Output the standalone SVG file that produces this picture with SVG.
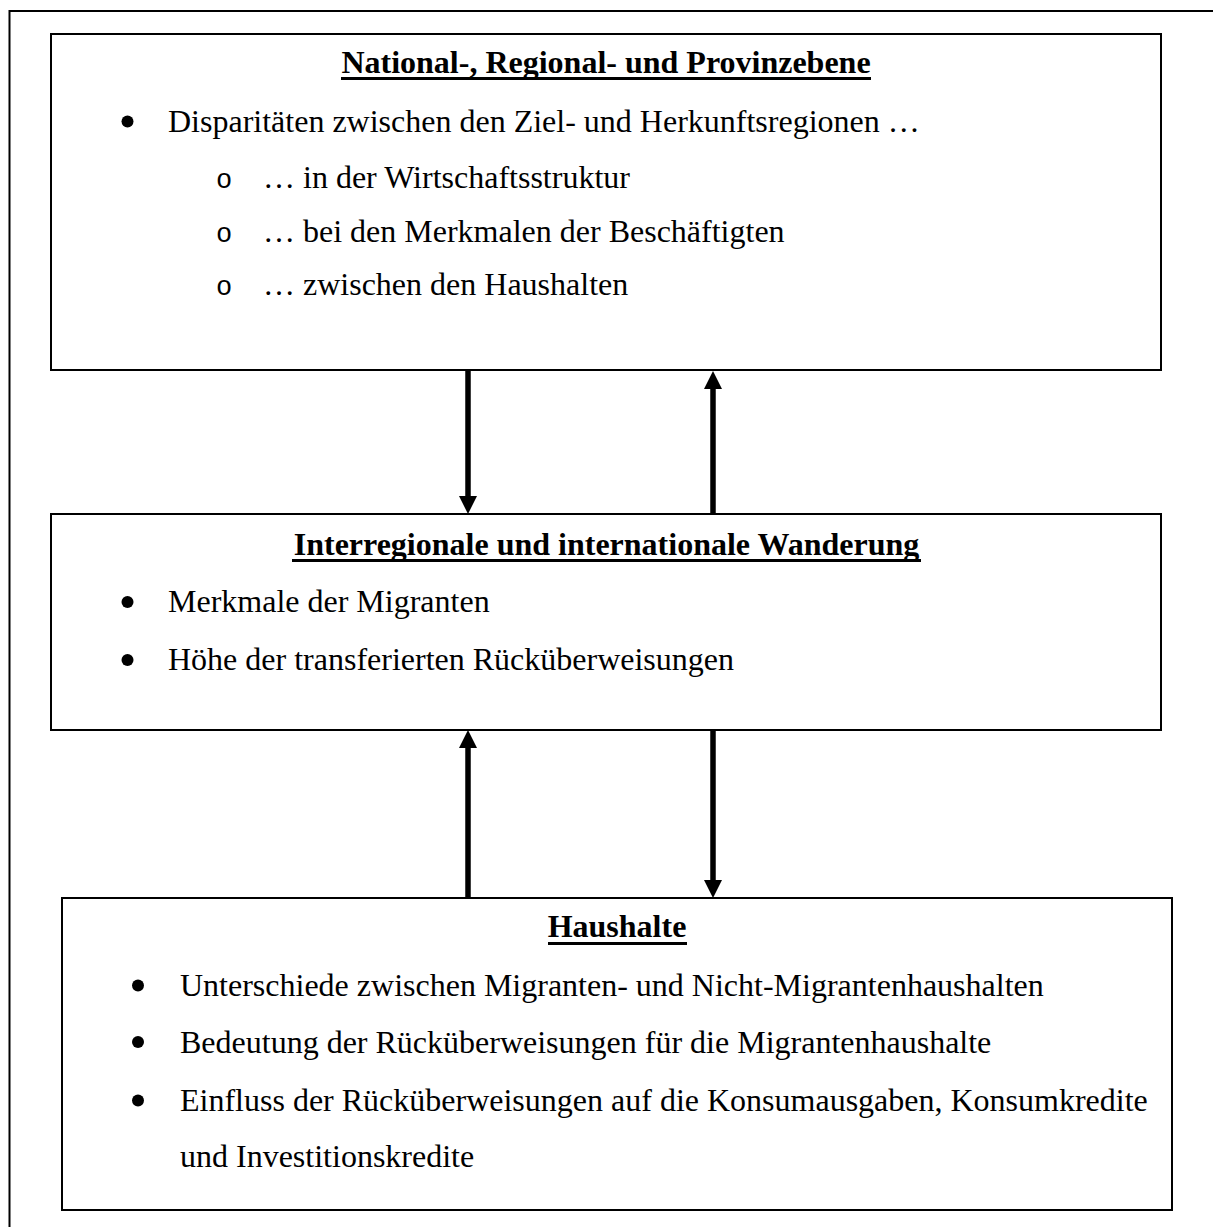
<svg xmlns="http://www.w3.org/2000/svg" width="1213" height="1227" viewBox="0 0 1213 1227">
  <style>
    .frame { fill: none; stroke: #000; stroke-width: 2; }
    .box { fill: #fff; stroke: #000; stroke-width: 2; }
    .title { font-family: "Liberation Serif", "Times New Roman", serif; font-size: 32px; font-weight: bold; fill: #000; text-anchor: middle; }
    .body { font-family: "Liberation Serif", "Times New Roman", serif; font-size: 32px; fill: #000; }
    .sub { font-family: "Liberation Mono", "Courier New", monospace; font-size: 27px; fill: #000; }
    .ul { fill: #000; }
    .dot { fill: #000; }
    .link { stroke: #000; stroke-width: 5.5; fill: none; marker-end: url(#head); }
  </style>
  <defs>
    <marker id="head" viewBox="0 0 18 18" refX="2" refY="9" markerWidth="18" markerHeight="18" markerUnits="userSpaceOnUse" orient="auto">
      <path d="M0,0 L18,9 L0,18 Z" fill="#000"/>
    </marker>
  </defs>

  <rect width="1213" height="1227" fill="#fff"/>
  <!-- page frame, open to the right and bottom -->
  <rect class="frame" x="9.5" y="11" width="1230" height="1240"/>

  <!-- connectors -->
  <g id="connectors">
    <line class="link" x1="468" y1="371" x2="468" y2="498"/>
    <line class="link" x1="713" y1="514" x2="713" y2="387"/>
    <line class="link" x1="468" y1="898" x2="468" y2="746"/>
    <line class="link" x1="713" y1="731" x2="713" y2="882"/>
  </g>

  <!-- national / regional / provincial level -->
  <g id="node-ebene">
    <rect class="box" x="51" y="34" width="1110" height="336"/>
    <text class="title" x="606" y="73">National-, Regional- und Provinzebene</text>
    <rect class="ul" x="341" y="77" width="530" height="3"/>
    <circle class="dot" cx="127.5" cy="121.5" r="6"/>
    <text class="body" x="168" y="132">Disparitäten zwischen den Ziel- und Herkunftsregionen …</text>
    <text class="sub" x="216" y="188">o</text>
    <text class="body" x="263" y="188">… in der Wirtschaftsstruktur</text>
    <text class="sub" x="216" y="242">o</text>
    <text class="body" x="263" y="242">… bei den Merkmalen der Beschäftigten</text>
    <text class="sub" x="216" y="295">o</text>
    <text class="body" x="263" y="295">… zwischen den Haushalten</text>
  </g>

  <!-- migration -->
  <g id="node-wanderung">
    <rect class="box" x="51" y="514" width="1110" height="216"/>
    <text class="title" x="606.5" y="555">Interregionale und internationale Wanderung</text>
    <rect class="ul" x="292" y="559" width="629" height="3"/>
    <circle class="dot" cx="127.5" cy="602" r="6"/>
    <text class="body" x="168" y="612">Merkmale der Migranten</text>
    <circle class="dot" cx="127.5" cy="660" r="6"/>
    <text class="body" x="168" y="670">Höhe der transferierten Rücküberweisungen</text>
  </g>

  <!-- households -->
  <g id="node-haushalte">
    <rect class="box" x="62" y="898" width="1110" height="312"/>
    <text class="title" x="617" y="937">Haushalte</text>
    <rect class="ul" x="548" y="942" width="139" height="3"/>
    <circle class="dot" cx="138" cy="985.5" r="6"/>
    <text class="body" x="180" y="996">Unterschiede zwischen Migranten- und Nicht-Migrantenhaushalten</text>
    <circle class="dot" cx="138" cy="1042" r="6"/>
    <text class="body" x="180" y="1052.5">Bedeutung der Rücküberweisungen für die Migrantenhaushalte</text>
    <circle class="dot" cx="138" cy="1100.5" r="6"/>
    <text class="body" x="180" y="1111">Einfluss der Rücküberweisungen auf die Konsumausgaben, Konsumkredite</text>
    <text class="body" x="180" y="1167">und Investitionskredite</text>
  </g>
</svg>
